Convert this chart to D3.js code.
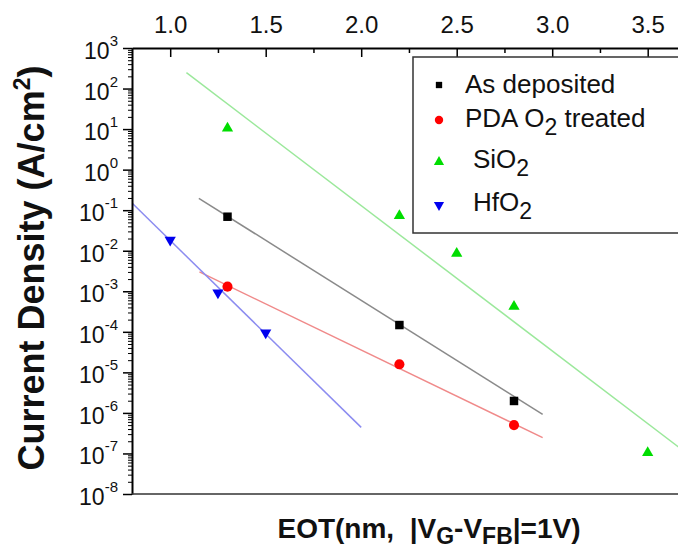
<!DOCTYPE html>
<html>
<head>
<meta charset="utf-8">
<script src="https://cdn.jsdelivr.net/npm/d3@7"></script>
<style>
  body { margin: 0; background: #fff; }
  text { font-family: Arial, "Liberation Sans", sans-serif; }
</style>
</head>
<body>
<script>
// data (EOT in nm, current density in A/cm2)
const eotAsDep = [1.3, 2.2, 2.8];
const jAsDep = [6.9e-2, 1.47e-4, 1.97e-6];
const eotPda = [1.3, 2.2, 2.8];
const jPda = [1.30e-3, 1.58e-5, 5.0e-7];
const eotSiO2 = [1.3, 2.2, 2.5, 2.8, 3.5];
const jSiO2 = [10.5, 7.3e-2, 8.6e-3, 4.2e-4, 1.04e-7];
const eotHfO2 = [1.0, 1.25, 1.5];
const jHfO2 = [1.84e-2, 9.2e-4, 9.5e-5];

// fit lines as drawn in the figure (end points)
const fitAsDep = [[1.15, 0.196], [2.95, 9.2e-7]];
const fitPda = [[1.153, 3.0e-3], [2.95, 2.45e-7]];
const fitSiO2 = [[1.085, 246], [3.72, 8.9e-8]];
const fitHfO2 = [[0.8, 0.15], [2.0, 4.4e-7]];

// ticks and legend
const xTicks = [1.0, 1.5, 2.0, 2.5, 3.0, 3.5];
const xMinorTicks = [1.25, 1.75, 2.25, 2.75, 3.25];
const yExponents = [3, 2, 1, 0, -1, -2, -3, -4, -5, -6, -7, -8];
const legendNames = [[['As deposited', 0]],
                     [['PDA O', 0], ['2', 1], [' treated', 0]],
                     [['SiO', 0], ['2', 1]],
                     [['HfO', 0], ['2', 1]]];

// define constants
const svgWidth = 678;
const svgHeight = 552;
const plotLeft = 132;
const plotTop = 48;
const plotBottom = 494;

const svg = d3.select('body')
              .append('svg')
              .attr('width', svgWidth)
              .attr('height', svgHeight)
              .style('background', '#fff');

const xScale = d3.scaleLinear()
                 .domain([0.8, 3.72])
                 .range([plotLeft, plotLeft + 2.92 * 191]);

const yScale = d3.scaleLog()
                 .domain([1e-8, 1e3])
                 .range([plotBottom, plotTop]);

// text with sub/superscripts: parts = [[text, 0 normal | 1 sub | -1 sup]]
function richText(sel, parts, size, smallSize, shift) {
    let offset = 0;
    parts.forEach(p => {
        const target = p[1] * shift;
        sel.append('tspan')
           .attr('dy', target - offset)
           .attr('font-size', p[1] === 0 ? size : smallSize)
           .text(p[0]);
        offset = target;
    });
}

// clip to plot area
svg.append('clipPath')
   .attr('id', 'plot-clip')
   .append('rect')
   .attr('x', plotLeft)
   .attr('y', plotTop)
   .attr('width', svgWidth - plotLeft)
   .attr('height', plotBottom - plotTop);

const plot = svg.append('g').attr('clip-path', 'url(#plot-clip)');

// fit lines
const line = d3.line()
               .x(d => xScale(d[0]))
               .y(d => yScale(d[1]));

const fits = [[fitAsDep, '#8a8a8a'], [fitPda, '#f08a8a'], [fitSiO2, '#9be89b'], [fitHfO2, '#8c8cf0']];
fits.forEach(f => {
    plot.append('path')
        .attr('d', line(f[0]))
        .attr('fill', 'none')
        .attr('stroke', f[1])
        .attr('stroke-width', 1.5);
});

// markers
const series = [
    {x: eotAsDep, y: jAsDep, color: '#000', symbol: d3.symbolSquare, size: 72, rot: 0},
    {x: eotPda, y: jPda, color: '#ff0000', symbol: d3.symbolCircle, size: 80, rot: 0},
    {x: eotSiO2, y: jSiO2, color: '#00dd00', symbol: d3.symbolTriangle, size: 55, rot: 0},
    {x: eotHfO2, y: jHfO2, color: '#0000ee', symbol: d3.symbolTriangle, size: 55, rot: 180}
];

series.forEach(s => {
    plot.selectAll(null)
        .data(s.x.map((v, i) => [v, s.y[i]]))
        .enter()
        .append('path')
        .attr('d', d3.symbol().type(s.symbol).size(s.size))
        .attr('transform', d => 'translate(' + xScale(d[0]) + ',' + yScale(d[1]) + ') rotate(' + s.rot + ')')
        .attr('fill', s.color);
});

// top x axis
const xAxis = d3.axisTop(xScale)
                .tickValues(xTicks)
                .tickSize(-9)
                .tickSizeOuter(0)
                .tickPadding(15)
                .tickFormat(d3.format('.1f'));
const xMinorAxis = d3.axisTop(xScale)
                     .tickValues(xMinorTicks)
                     .tickSize(-5)
                     .tickSizeOuter(0)
                     .tickFormat('');

svg.append('g')
   .attr('transform', 'translate(0,' + plotTop + ')')
   .call(xMinorAxis);
const xAxisG = svg.append('g')
                  .attr('class', 'x-axis')
                  .attr('transform', 'translate(0,' + plotTop + ')')
                  .call(xAxis);
xAxisG.attr('font-size', 24).attr('font-family', null);
xAxisG.selectAll('text').attr('fill', '#111');
xAxisG.select('.domain').attr('stroke-width', 2);
svg.selectAll('.tick line').attr('stroke-width', 1.5);

// left y axis
const yMinor = [];
yExponents.slice(1).forEach(e => {
    for (let m = 2; m <= 9; m++) yMinor.push(m * Math.pow(10, e));
});
const yMinorAxis = d3.axisLeft(yScale)
                     .tickValues(yMinor)
                     .tickSize(4)
                     .tickSizeOuter(0)
                     .tickFormat('');
const yAxis = d3.axisLeft(yScale)
                .tickValues(yExponents.map(e => Math.pow(10, e)))
                .tickSize(9)
                .tickSizeOuter(0)
                .tickFormat('');

svg.append('g')
   .attr('transform', 'translate(' + plotLeft + ',0)')
   .call(yMinorAxis)
   .selectAll('.tick line')
   .attr('stroke-width', 1);
const yAxisG = svg.append('g')
                  .attr('class', 'y-axis')
                  .attr('transform', 'translate(' + plotLeft + ',0)')
                  .call(yAxis);
yAxisG.select('.domain').attr('stroke-width', 2);
yAxisG.selectAll('.tick line').attr('stroke-width', 1.5);

yExponents.forEach(e => {
    const t = svg.append('text')
                 .attr('x', plotLeft - 14)
                 .attr('y', yScale(Math.pow(10, e)) + 11)
                 .attr('text-anchor', 'end')
                 .attr('fill', '#111');
    richText(t, [['10', 0], [String(e), -1]], 23, 15, 13);
});

// bottom frame line
svg.append('line')
   .attr('x1', xScale.range()[0])
   .attr('x2', xScale.range()[1])
   .attr('y1', plotBottom)
   .attr('y2', plotBottom)
   .attr('stroke', '#333')
   .attr('stroke-width', 1.5);

// legend
const legend = svg.append('g');
legend.append('rect')
      .attr('x', 413)
      .attr('y', 57)
      .attr('width', 300)
      .attr('height', 176)
      .attr('fill', '#fff')
      .attr('stroke', '#333')
      .attr('stroke-width', 1.5);

const legendMarkerY = [85, 120, 162, 205];
const legendTextY = [93, 127, 168, 211];
const legendTextX = [465, 465, 473, 473];
const legendSizes = [40, 55, 45, 45];
series.forEach((s, i) => {
    legend.append('path')
          .attr('d', d3.symbol().type(s.symbol).size(legendSizes[i]))
          .attr('transform', 'translate(439,' + legendMarkerY[i] + ') rotate(' + s.rot + ')')
          .attr('fill', s.color);
    const t = legend.append('text')
                    .attr('x', legendTextX[i])
                    .attr('y', legendTextY[i])
                    .attr('fill', '#111');
    richText(t, legendNames[i], 26, 23, 8);
});

// axis titles
const xTitle = svg.append('text')
                  .attr('x', 429)
                  .attr('y', 538)
                  .attr('text-anchor', 'middle')
                  .attr('font-weight', 'bold')
                  .style('white-space', 'pre')
                  .attr('fill', '#111');
richText(xTitle, [['EOT(nm,  |V', 0], ['G', 1], ['-V', 0], ['FB', 1], ['|=1V)', 0]], 28, 23, 6);

const yTitle = svg.append('text')
                  .attr('transform', 'translate(44,268) rotate(-90)')
                  .attr('text-anchor', 'middle')
                  .attr('font-weight', 'bold')
                  .attr('fill', '#111');
richText(yTitle, [['Current Density (A/cm', 0], ['2', -1], [')', 0]], 36, 23, 14);
</script>
</body>
</html>
